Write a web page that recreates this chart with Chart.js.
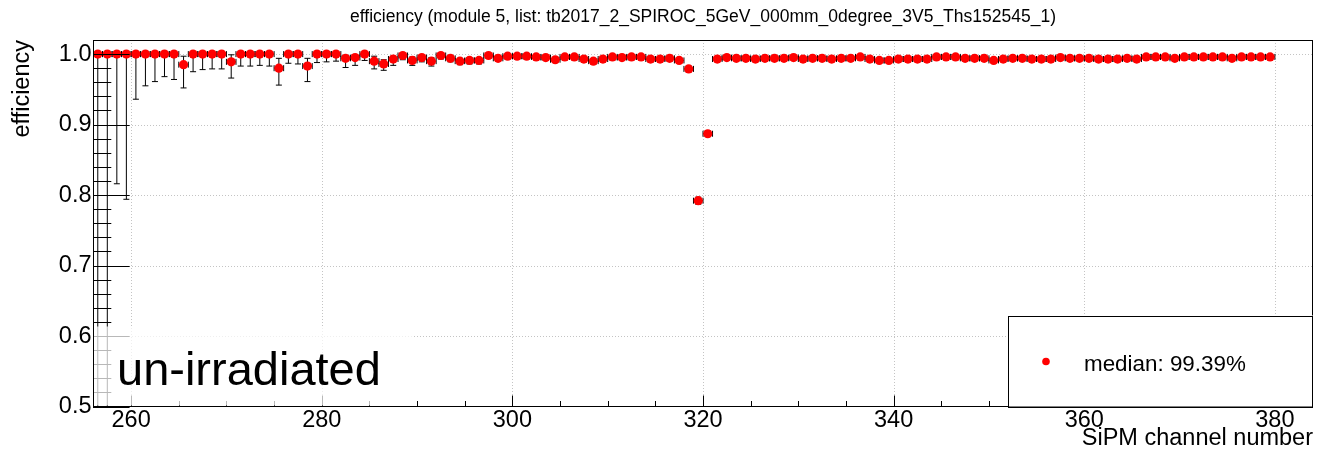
<!DOCTYPE html>
<html lang="en">
<head>
<meta charset="UTF-8">
<title>efficiency module 5</title>
<script src="https://cdn.jsdelivr.net/npm/chart.js"></script>
<style>
  html, body { margin: 0; padding: 0; background: #fff; }
</style>
</head>
<body>
<canvas id="effChart" width="1329" height="451"></canvas>
<script>
// SiPM channels (bin low edge), efficiency and asymmetric errors
const channels = [
  256, 257, 258, 259, 260, 261, 262, 263, 264, 265,
  266, 267, 268, 269, 270, 271, 272, 273, 274, 275,
  276, 277, 278, 279, 280, 281, 282, 283, 284, 285,
  286, 287, 288, 289, 290, 291, 292, 293, 294, 295,
  296, 297, 298, 299, 300, 301, 302, 303, 304, 305,
  306, 307, 308, 309, 310, 311, 312, 313, 314, 315,
  316, 317, 318, 319, 320, 321, 322, 323, 324, 325,
  326, 327, 328, 329, 330, 331, 332, 333, 334, 335,
  336, 337, 338, 339, 340, 341, 342, 343, 344, 345,
  346, 347, 348, 349, 350, 351, 352, 353, 354, 355,
  356, 357, 358, 359, 360, 361, 362, 363, 364, 365,
  366, 367, 368, 369, 370, 371, 372, 373, 374, 375,
  376, 377, 378, 379
];
const efficiency = [
  1.0, 1.0, 1.0, 1.0, 1.0, 1.0, 1.0, 1.0, 1.0, 0.985,
  1.0, 1.0, 1.0, 1.0, 0.989, 1.0, 1.0, 1.0, 1.0, 0.980,
  1.0, 1.0, 0.983, 1.0, 1.0, 1.0, 0.994, 0.995, 1.0, 0.990,
  0.986, 0.993, 0.998, 0.991, 0.995, 0.990, 0.998, 0.994, 0.990, 0.991,
  0.991, 0.998, 0.994, 0.997, 0.997, 0.997, 0.996, 0.995, 0.992, 0.996,
  0.996, 0.993, 0.990, 0.993, 0.996, 0.995, 0.996, 0.996, 0.993, 0.993,
  0.994, 0.991, 0.979, 0.792, 0.887, 0.993, 0.995, 0.994, 0.994, 0.993,
  0.994, 0.994, 0.994, 0.995, 0.993, 0.994, 0.994, 0.993, 0.994, 0.994,
  0.996, 0.993, 0.991, 0.991, 0.993, 0.993, 0.993, 0.993, 0.996, 0.996,
  0.996, 0.994, 0.994, 0.994, 0.991, 0.993, 0.994, 0.994, 0.993, 0.993,
  0.993, 0.995, 0.994, 0.994, 0.994, 0.993, 0.993, 0.993, 0.994, 0.993,
  0.996, 0.996, 0.996, 0.994, 0.996, 0.996, 0.996, 0.996, 0.996, 0.994,
  0.996, 0.996, 0.996, 0.996
];
const errDown = [
  0.70, 0.65, 0.184, 0.206, 0.064, 0.045, 0.039, 0.032, 0.036, 0.033,
  0.025, 0.022, 0.021, 0.021, 0.023, 0.017, 0.017, 0.016, 0.017, 0.024,
  0.013, 0.014, 0.022, 0.012, 0.011, 0.010, 0.013, 0.011, 0.009, 0.011,
  0.009, 0.009, 0.006, 0.007, 0.006, 0.007, 0.005, 0.005, 0.005, 0.005,
  0.005, 0.004, 0.004, 0.004, 0.004, 0.004, 0.004, 0.004, 0.004, 0.004,
  0.004, 0.004, 0.004, 0.004, 0.004, 0.004, 0.004, 0.004, 0.004, 0.004,
  0.004, 0.004, 0.004, 0.005, 0.004, 0.003, 0.003, 0.003, 0.003, 0.003,
  0.003, 0.003, 0.003, 0.003, 0.003, 0.003, 0.003, 0.003, 0.003, 0.003,
  0.003, 0.003, 0.003, 0.003, 0.003, 0.003, 0.003, 0.003, 0.003, 0.003,
  0.003, 0.003, 0.003, 0.003, 0.003, 0.003, 0.003, 0.003, 0.003, 0.003,
  0.003, 0.003, 0.003, 0.003, 0.003, 0.003, 0.003, 0.003, 0.003, 0.003,
  0.003, 0.003, 0.003, 0.003, 0.003, 0.003, 0.003, 0.003, 0.003, 0.003,
  0.003, 0.003, 0.003, 0.003
];
const errUp = [
  0, 0, 0, 0, 0, 0, 0, 0, 0, 0.012,
  0, 0, 0, 0, 0.010, 0, 0, 0, 0, 0.014,
  0, 0, 0.011, 0, 0, 0, 0.004, 0.003, 0, 0.007,
  0.006, 0.004, 0.002, 0.005, 0.003, 0.005, 0.002, 0.003, 0.004, 0.004,
  0.004, 0.002, 0.003, 0.002, 0.002, 0.002, 0.002, 0.003, 0.003, 0.002,
  0.002, 0.003, 0.003, 0.003, 0.002, 0.002, 0.002, 0.002, 0.003, 0.003,
  0.003, 0.003, 0.004, 0.005, 0.004, 0.002, 0.002, 0.002, 0.002, 0.002,
  0.002, 0.002, 0.002, 0.002, 0.002, 0.002, 0.002, 0.002, 0.002, 0.002,
  0.002, 0.002, 0.002, 0.002, 0.002, 0.002, 0.002, 0.002, 0.002, 0.002,
  0.002, 0.002, 0.002, 0.002, 0.002, 0.002, 0.002, 0.002, 0.002, 0.002,
  0.002, 0.002, 0.002, 0.002, 0.002, 0.002, 0.002, 0.002, 0.002, 0.002,
  0.002, 0.002, 0.002, 0.002, 0.002, 0.002, 0.002, 0.002, 0.002, 0.002,
  0.002, 0.002, 0.002, 0.002
];
const xTicks = [260, 280, 300, 320, 340, 360, 380];
const yTicks = [0.5, 0.6, 0.7, 0.8, 0.9, 1.0];
const chartTitle = "efficiency (module 5, list: tb2017_2_SPIROC_5GeV_000mm_0degree_3V5_Ths152545_1)";
const legendLabel = "median: 99.39%";
const stampText = "un-irradiated";

const FONT = "'Liberation Sans', Arial, Helvetica, sans-serif";

function line(ctx, x0, y0, x1, y1) {
  ctx.beginPath();
  ctx.moveTo(x0, y0);
  ctx.lineTo(x1, y1);
  ctx.stroke();
}

// dotted grid + error bars under the markers
const underlay = {
  id: "underlay",
  beforeDatasetsDraw(chart) {
    const { ctx, chartArea: a, scales: { x, y } } = chart;
    ctx.save();
    ctx.beginPath();
    ctx.rect(a.left, a.top, a.right - a.left, a.bottom - a.top);
    ctx.clip();

    ctx.strokeStyle = "#c4c4c4";
    ctx.lineWidth = 1;
    ctx.setLineDash([1, 2]);
    xTicks.forEach((v) => {
      const px = Math.round(x.getPixelForValue(v)) + 0.5;
      line(ctx, px, a.top, px, a.bottom);
    });
    yTicks.forEach((v) => {
      const py = Math.round(y.getPixelForValue(v)) + 0.5;
      line(ctx, a.left, py, a.right, py);
    });
    ctx.setLineDash([]);

    ctx.strokeStyle = "#000";
    ctx.lineWidth = 1;
    const cap = 3;
    channels.forEach((ch, i) => {
      const cx = x.getPixelForValue(ch + 0.5);
      const x0 = x.getPixelForValue(ch);
      const x1 = x.getPixelForValue(ch + 1);
      const cy = y.getPixelForValue(efficiency[i]);
      line(ctx, x0, cy, x1, cy);
      line(ctx, x0, cy - cap, x0, cy + cap);
      line(ctx, x1, cy - cap, x1, cy + cap);
      if (errDown[i] > 0) {
        const yl = y.getPixelForValue(efficiency[i] - errDown[i]);
        line(ctx, cx, cy, cx, yl);
        line(ctx, cx - cap, yl, cx + cap, yl);
      }
      if (errUp[i] > 0) {
        const yh = y.getPixelForValue(efficiency[i] + errUp[i]);
        line(ctx, cx, cy, cx, yh);
        line(ctx, cx - cap, yh, cx + cap, yh);
      }
    });
    ctx.restore();
  },
  afterDatasetsDraw(chart) {
    const { ctx, chartArea: a, scales: { x, y } } = chart;
    ctx.save();
    ctx.strokeStyle = "#000";
    ctx.lineWidth = 1;

    // ROOT-style ticks drawn inside the frame
    const w = a.right - a.left, h = a.bottom - a.top;
    for (let k = 25; k <= 51; k++) {
      const py = Math.round(y.getPixelForValue(k / 50)) + 0.5;
      const len = k % 5 === 0 ? 0.03 * w : 0.015 * w;
      line(ctx, a.left, py, a.left + len, py);
    }
    for (let v = 260; v <= 380; v += 5) {
      const px = Math.round(x.getPixelForValue(v)) + 0.5;
      const len = v % 20 === 0 ? 0.03 * h : 0.015 * h;
      line(ctx, px, a.bottom, px, a.bottom - len);
    }

    // frame
    ctx.strokeRect(Math.round(a.left) + 0.5, Math.round(a.top) + 0.5,
      Math.round(w) - 1, Math.round(h) - 1);

    // "un-irradiated" label box
    ctx.fillStyle = "rgba(255,255,255,0.72)";
    ctx.fillRect(a.left + 1, a.bottom - 80, 320, 79);
    ctx.fillStyle = "#000";
    ctx.font = "47px " + FONT;
    ctx.textAlign = "left";
    ctx.textBaseline = "alphabetic";
    ctx.fillText(stampText, a.left + 24, a.bottom - 22);

    // legend box
    const lw = 305, lh = 91;
    const lx = a.right - lw, ly = a.bottom - lh;
    ctx.fillStyle = "#fff";
    ctx.fillRect(lx, ly, lw, lh);
    ctx.strokeRect(Math.round(lx) + 0.5, Math.round(ly) + 0.5, lw - 1, lh);
    ctx.fillStyle = "#ff0000";
    ctx.beginPath();
    ctx.arc(lx + 38, ly + 46, 3.8, 0, Math.PI * 2);
    ctx.fill();
    ctx.fillStyle = "#000";
    ctx.font = "22.4px " + FONT;
    ctx.textBaseline = "alphabetic";
    ctx.fillText(legendLabel, lx + 76, ly + 55);
    ctx.restore();
  }
};

const points = channels.map((ch, i) => ({ x: ch + 0.5, y: efficiency[i] }));

new Chart(document.getElementById("effChart"), {
  type: "scatter",
  data: {
    datasets: [{
      label: legendLabel,
      data: points,
      pointRadius: 4.6,
      pointBackgroundColor: "#ff0000",
      pointBorderColor: "#ff0000",
      pointBorderWidth: 0,
      showLine: false
    }]
  },
  options: {
    responsive: false,
    animation: false,
    devicePixelRatio: 1,
    layout: { padding: { left: 0, right: 16, top: 0, bottom: 0 } },
    plugins: {
      legend: { display: false },
      tooltip: { enabled: false },
      title: {
        display: true,
        text: chartTitle,
        fullSize: false,
        color: "#000",
        font: { family: FONT, size: 17.5, weight: "normal", lineHeight: 1.2 },
        padding: { top: 6.5, bottom: 12.5 }
      }
    },
    scales: {
      x: {
        type: "linear",
        min: 256,
        max: 384,
        afterBuildTicks: (s) => { s.ticks = xTicks.map((v) => ({ value: v })); },
        afterFit: (s) => { s.height = 44.5; },
        grid: { display: false, drawTicks: false },
        border: { display: false },
        ticks: {
          color: "#000",
          padding: 0,
          maxRotation: 0,
          font: { family: FONT, size: 23.5, lineHeight: 1.2 },
          callback: (v) => String(v)
        },
        title: {
          display: true,
          text: "SiPM channel number",
          align: "end",
          color: "#000",
          font: { family: FONT, size: 23.5, lineHeight: 1.0 },
          padding: { top: 0, bottom: 0.5 }
        }
      },
      y: {
        type: "linear",
        min: 0.5,
        max: 1.02,
        afterBuildTicks: (s) => { s.ticks = yTicks.map((v) => ({ value: v })); },
        afterFit: (s) => { s.width = 93; },
        grid: { display: false, drawTicks: false },
        border: { display: false },
        ticks: {
          color: "#000",
          padding: 1.5,
          font: { family: FONT, size: 23.5 },
          callback: (v) => v.toFixed(1)
        },
        title: {
          display: true,
          text: "efficiency",
          align: "end",
          color: "#000",
          font: { family: FONT, size: 23.5, lineHeight: 1.0 },
          padding: { top: 10.75, bottom: 0 }
        }
      }
    }
  },
  plugins: [underlay]
});
</script>
</body>
</html>
